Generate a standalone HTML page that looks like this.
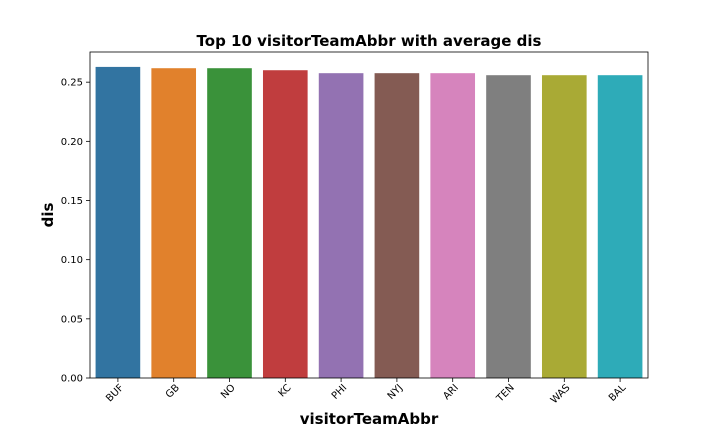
<!DOCTYPE html>
<html><head><meta charset="utf-8"><style>
body{margin:0;background:#fff;font-family:"DejaVu Sans","Liberation Sans",sans-serif}
</style></head><body>
<svg id="chart" width="720" height="432" xmlns="http://www.w3.org/2000/svg" font-family="DejaVu Sans, Liberation Sans, sans-serif"></svg>
<script>
const categories=["BUF","GB","NO","KC","PHI","NYJ","ARI","TEN","WAS","BAL"];
const values=[0.2629,0.2618,0.2618,0.2601,0.2576,0.2576,0.2576,0.2559,0.2559,0.2559];
const yTicks=[0,0.05,0.10,0.15,0.20,0.25];
const colors=["#3274a1","#e1812c","#3a923a","#c03d3e","#9372b2","#845b53","#d684bd","#7f7f7f","#a9aa35","#2eabb8"];
const L=90,R=648,T=52,B=378,yMax=0.2755;
const svg=document.getElementById('chart');const NS="http://www.w3.org/2000/svg";
function y(v){return B-(v/yMax)*(B-T);}
const slot=(R-L)/categories.length;
function x(i){return L+slot*(i+0.5);}
function mk(t,a,txt){const e=document.createElementNS(NS,t);for(const k in a)e.setAttribute(k,a[k]);if(txt!==undefined)e.textContent=txt;svg.appendChild(e);return e;}
categories.forEach((c,i)=>{
 const r=mk('rect',{x:x(i)-slot*0.4,y:y(values[i]),width:slot*0.8,height:B-y(values[i]),fill:colors[i]});
 
 
 mk('line',{x1:x(i),x2:x(i),y1:B,y2:B+4,stroke:'#000','stroke-width':0.8});
 const t=mk('text',{x:x(i)+4,y:B+11,'font-size':10,'text-anchor':'end',transform:`rotate(-45 ${x(i)+4} ${B+8})`},c);
 
 
});
yTicks.forEach(v=>{
 mk('line',{x1:L-4,x2:L,y1:y(v),y2:y(v),stroke:'#000','stroke-width':0.8});
 const t=mk('text',{x:L-7,y:y(v)+3.5,'font-size':10,'text-anchor':'end'},v.toFixed(2));
 
 
});
const f=mk('rect',{x:L,y:T,width:R-L,height:B-T,fill:'none',stroke:'#000','stroke-width':0.8});


const ti=mk('text',{x:(L+R)/2,y:46,'font-size':15,'font-weight':'bold','text-anchor':'middle'},'Top 10 visitorTeamAbbr with average dis');


const xt=mk('text',{x:(L+R)/2,y:424,'font-size':15,'font-weight':'bold','text-anchor':'middle'},'visitorTeamAbbr');


const yt=mk('text',{x:53,y:215,'font-size':15,'font-weight':'bold','text-anchor':'middle',transform:'rotate(-90 53 215)'},'dis');


</script>
</body></html>
